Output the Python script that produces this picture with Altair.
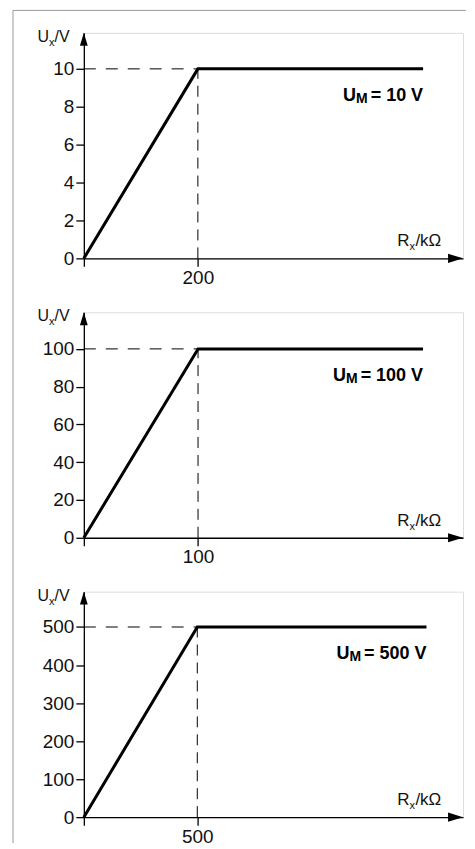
import altair as alt
import pandas as pd

# ---- data ----
um_values = ["10", "100", "500"]          # U_M label values (V)
knee_r = [200, 100, 500]                  # R_x at knee (kOhm)
knee_u = [10, 100, 500]                   # U_x plateau (V)
plateau_end_r = [595, 297, 1510]          # end of the plateau line
x_max = [665, 332, 1671]                  # x-axis arrow tip
y_max = [11.9, 119.4, 593]                # y-axis arrow tip
y_ticks = [[0, 2, 4, 6, 8, 10],
           [0, 20, 40, 60, 80, 100],
           [0, 100, 200, 300, 400, 500]]
x_ticks = [[0, 200], [0, 100], [0, 500]]
y_title = ["U", "x", "/V"]
x_title = ["R", "x", "/kΩ"]

W, H = 380, 226
GAP = 54
FONT = "Liberation Sans"
INK = "#111111"

# approximate Arial/Liberation Sans Bold advance widths (em/1000)
BOLD_W = {"=": 584, " ": 278, "0": 556, "1": 556, "5": 556, "V": 667, "U": 722, "M": 833}


def bold_width(s, size):
    return sum(BOLD_W.get(c, 556) for c in s) * size / 1000.0


UP_ARROW = "M0,0 L-0.6,2 L0.6,2 Z"
RIGHT_ARROW = "M0,0 L-2.3,-0.7 L-2.3,0.7 Z"


def panel(i):
    xs = alt.Scale(domain=[0, x_max[i]], nice=False, zero=False)
    ys = alt.Scale(domain=[0, y_max[i]], nice=False, zero=False)
    ax = alt.Axis(values=x_ticks[i], title=None, grid=False,
                  labelExpr="datum.value == 0 ? '' : datum.label")
    ay = alt.Axis(values=y_ticks[i], title=None, grid=False)

    def X(f):
        return alt.X(f, type="quantitative", scale=xs, axis=ax)

    def Y(f):
        return alt.Y(f, type="quantitative", scale=ys, axis=ay)

    curve = pd.DataFrame({"r": [0, knee_r[i], plateau_end_r[i]],
                          "u": [0, knee_u[i], knee_u[i]]})
    line = alt.Chart(curve).mark_line(color="black", strokeWidth=3, strokeJoin="miter").encode(
        x=X("r"), y=Y("u"))

    knee = pd.DataFrame({"r0": [0], "r": [knee_r[i]], "u0": [0], "u": [knee_u[i]]})
    kb = alt.Chart(knee)
    hdash = kb.mark_rule(color="black", strokeWidth=1, strokeDash=[12, 10]).encode(
        x=X("r0"), x2="r:Q", y=Y("u"))
    vdash = kb.mark_rule(color="black", strokeWidth=1, strokeDash=[11, 7]).encode(
        x=X("r"), y=Y("u0"), y2="u:Q")

    tips = pd.DataFrame({"r": [0, x_max[i]], "u": [y_max[i], 0]})
    up = alt.Chart(tips.iloc[[0]]).mark_point(
        shape=UP_ARROW, size=169, filled=True, color="black", opacity=1, strokeWidth=0).encode(
        x=X("r"), y=Y("u"))
    right = alt.Chart(tips.iloc[[1]]).mark_point(
        shape=RIGHT_ARROW, size=169, filled=True, color="black", opacity=1, strokeWidth=0).encode(
        x=X("r"), y=Y("u"))

    # axis titles with subscripts
    tb = alt.Chart(pd.DataFrame({"r": [0], "u": [y_max[i]]}))
    yt = [
        tb.mark_text(text=y_title[0], align="left", baseline="alphabetic", dx=-46.5, dy=9,
                     font=FONT, fontSize=16, color=INK),
        tb.mark_text(text=y_title[1], align="left", baseline="alphabetic", dx=-34.9, dy=13,
                     font=FONT, fontSize=11, color=INK),
        tb.mark_text(text=y_title[2], align="left", baseline="alphabetic", dx=-29.4, dy=9,
                     font=FONT, fontSize=16, color=INK),
    ]
    yt = [t.encode(x=X("r"), y=Y("u")) for t in yt]

    xb = alt.Chart(pd.DataFrame({"r": [x_max[i]], "u": [0]}))
    xt = [
        xb.mark_text(text=x_title[0], align="left", baseline="alphabetic", dx=-66, dy=-12,
                     font=FONT, fontSize=17, color=INK),
        xb.mark_text(text=x_title[1], align="left", baseline="alphabetic", dx=-53.7, dy=-8,
                     font=FONT, fontSize=11, color=INK),
        xb.mark_text(text=x_title[2], align="left", baseline="alphabetic", dx=-47.7, dy=-12,
                     font=FONT, fontSize=17, color=INK),
    ]
    xt = [t.encode(x=X("r"), y=Y("u")) for t in xt]

    # U_M label, right aligned to the end of the plateau
    rest = "= " + um_values[i] + " V"
    w_rest = bold_width(rest, 18)
    w_m = bold_width("M", 14)
    lb = alt.Chart(pd.DataFrame({"r": [plateau_end_r[i]], "u": [knee_u[i]]}))
    lab = [
        lb.mark_text(text=rest, align="right", baseline="alphabetic", dx=0, dy=32,
                     font=FONT, fontSize=18, fontWeight="bold", color="black"),
        lb.mark_text(text="M", align="right", baseline="alphabetic", dx=-(w_rest + 3), dy=34,
                     font=FONT, fontSize=14, fontWeight="bold", color="black"),
        lb.mark_text(text="U", align="right", baseline="alphabetic", dx=-(w_rest + 3 + w_m), dy=32,
                     font=FONT, fontSize=18, fontWeight="bold", color="black"),
    ]
    lab = [t.encode(x=X("r"), y=Y("u")) for t in lab]

    # frame (left and top edges)
    fb = alt.Chart(pd.DataFrame({"k": [0]}))
    top = -22.5 if i == 0 else -GAP / 2
    bottom = H + 26 if i == 2 else H + GAP / 2
    frame = [fb.mark_rule(color="#9a9a9a", strokeWidth=1).encode(
        x=alt.value(-71), y=alt.value(top), y2=alt.value(bottom))]
    if i == 0:
        frame.append(fb.mark_rule(color="#9a9a9a", strokeWidth=1).encode(
            x=alt.value(-71), x2=alt.value(W + 3), y=alt.value(-22.5)))

    return alt.layer(line, hdash, vdash, up, right, *yt, *xt, *lab, *frame).properties(
        width=W, height=H)


chart = alt.vconcat(panel(0), panel(1), panel(2), spacing=GAP, bounds="flush").resolve_scale(
    x="independent", y="independent"
).properties(
    padding={"left": 4, "top": 0, "right": 0, "bottom": 0}
).configure_view(stroke=None).configure(background="white").configure_axis(
    tickSize=8, labelPadding=2, domainWidth=1.3, tickWidth=1.3,
    domainColor="black", tickColor="black",
    labelFontSize=19, labelFont=FONT, labelColor=INK,
    labelFlush=False, labelOverlap=False, grid=False,
)

chart.save("out.html", embed_options={"renderer": "svg", "actions": False})
